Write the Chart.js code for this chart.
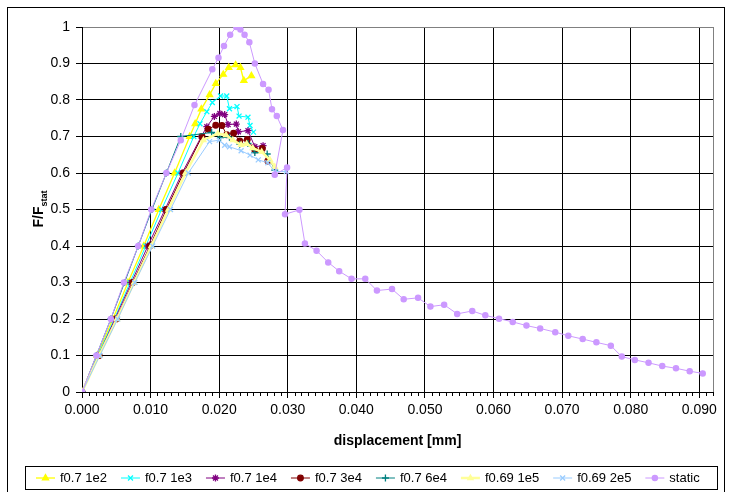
<!DOCTYPE html>
<html>
<head>
<meta charset="utf-8">
<script src="https://cdn.jsdelivr.net/npm/chart.js@4.4.0/dist/chart.umd.min.js"></script>
<style>
  html, body { margin: 0; padding: 0; background: #fff; }
</style>
</head>
<body>
<canvas id="myChart" width="731" height="492"></canvas>
<script>
// values (displacement in mm, F/Fstat)
const labels = ["f0.7 1e2", "f0.7 1e3", "f0.7 1e4", "f0.7 3e4", "f0.7 6e4", "f0.69 1e5", "f0.69 2e5", "static"];

const x1e2 = [0, 0.0022, 0.0045, 0.0067, 0.0090, 0.0112, 0.0135, 0.0157, 0.0165, 0.0174, 0.0186, 0.0195, 0.0206, 0.0214, 0.0224, 0.0231, 0.0236, 0.0247];
const y1e2 = [0, 0.1, 0.2, 0.3, 0.4, 0.5, 0.6, 0.7, 0.735, 0.775, 0.814, 0.845, 0.870, 0.889, 0.896, 0.889, 0.853, 0.866];

const x1e3 = [0, 0.0023, 0.0047, 0.0070, 0.0093, 0.0116, 0.0140, 0.0163, 0.0172, 0.0182, 0.0190, 0.0202, 0.0211, 0.0215, 0.0226, 0.0229, 0.0242, 0.0245, 0.0250];
const y1e3 = [0, 0.1, 0.2, 0.3, 0.4, 0.5, 0.6, 0.7, 0.735, 0.768, 0.793, 0.811, 0.811, 0.776, 0.782, 0.756, 0.753, 0.730, 0.712];

const x1e4 = [0, 0.0024, 0.0048, 0.0072, 0.0096, 0.0121, 0.0146, 0.0174, 0.0182, 0.0193, 0.0201, 0.0208, 0.0213, 0.0225, 0.0228, 0.0242, 0.0252, 0.0264];
const y1e4 = [0, 0.1, 0.2, 0.3, 0.4, 0.5, 0.6, 0.70, 0.727, 0.755, 0.763, 0.760, 0.733, 0.734, 0.713, 0.716, 0.672, 0.675];

const x3e4 = [0, 0.0025, 0.0050, 0.0074, 0.0099, 0.0123, 0.0148, 0.0175, 0.0184, 0.0195, 0.0204, 0.0211, 0.0221, 0.0230, 0.0241, 0.0252, 0.0263, 0.0271];
const y3e4 = [0, 0.1, 0.2, 0.3, 0.4, 0.5, 0.6, 0.70, 0.72, 0.731, 0.730, 0.705, 0.709, 0.688, 0.692, 0.663, 0.667, 0.633];

const x6e4 = [0, 0.0021, 0.0042, 0.0062, 0.0082, 0.0102, 0.0123, 0.0144, 0.0189, 0.0202, 0.0215, 0.0230, 0.0242, 0.0252, 0.0270, 0.0281];
const y6e4 = [0, 0.1, 0.2, 0.3, 0.4, 0.5, 0.6, 0.70, 0.711, 0.697, 0.698, 0.679, 0.681, 0.656, 0.652, 0.608];

const x1e5 = [0, 0.0025, 0.0051, 0.0076, 0.0101, 0.0126, 0.0151, 0.0177, 0.0198, 0.0210, 0.0220, 0.0232, 0.0240, 0.0249, 0.0262, 0.0274, 0.0281];
const y1e5 = [0, 0.1, 0.2, 0.3, 0.4, 0.5, 0.6, 0.69, 0.708, 0.704, 0.690, 0.677, 0.680, 0.668, 0.658, 0.636, 0.617];

const x2e5 = [0, 0.0026, 0.0052, 0.0077, 0.0103, 0.0129, 0.0155, 0.0186, 0.0200, 0.0208, 0.0215, 0.0232, 0.0245, 0.0257, 0.0271, 0.0281, 0.0298];
const y2e5 = [0, 0.1, 0.2, 0.3, 0.4, 0.5, 0.6, 0.686, 0.690, 0.676, 0.672, 0.661, 0.649, 0.636, 0.628, 0.604, 0.604];

const xStatic = [0, 0.0021, 0.0042, 0.0061, 0.0082, 0.0101, 0.0123, 0.0144, 0.0164, 0.0190, 0.0199, 0.0207, 0.0216, 0.0225, 0.0231, 0.0237, 0.0244, 0.0252, 0.0264, 0.0272, 0.0277, 0.0284, 0.0293, 0.0281, 0.0299, 0.0296, 0.0317, 0.0325, 0.0342, 0.0359, 0.0375, 0.0393, 0.0413, 0.0430, 0.0452, 0.0469, 0.0490, 0.0508, 0.0528, 0.0547, 0.0569, 0.0588, 0.0608, 0.0628, 0.0648, 0.0668, 0.0690, 0.0709, 0.0730, 0.0750, 0.0771, 0.0787, 0.0806, 0.0826, 0.0846, 0.0866, 0.0886, 0.0905];
const yStatic = [0, 0.1, 0.2, 0.3, 0.4, 0.5, 0.6, 0.69, 0.786, 0.884, 0.916, 0.948, 0.979, 1.0, 0.993, 0.979, 0.958, 0.90, 0.844, 0.828, 0.775, 0.756, 0.718, 0.595, 0.615, 0.487, 0.499, 0.407, 0.387, 0.355, 0.331, 0.310, 0.310, 0.278, 0.282, 0.254, 0.258, 0.234, 0.239, 0.214, 0.222, 0.210, 0.201, 0.192, 0.182, 0.174, 0.164, 0.154, 0.145, 0.136, 0.127, 0.097, 0.088, 0.080, 0.071, 0.065, 0.057, 0.051];

const xTickValues = [0, 0.01, 0.02, 0.03, 0.04, 0.05, 0.06, 0.07, 0.08, 0.09];

function pts(xs, ys) {
  return xs.map((x, i) => ({ x: x, y: ys[i] }));
}

function series(label, xs, ys, color, style, radius, lineW, order) {
  return {
    label: label,
    data: pts(xs, ys),
    showLine: true,
    borderColor: color,
    backgroundColor: color,
    borderWidth: lineW,
    pointStyle: style,
    pointRadius: radius,
    pointBorderWidth: 1.3,
    pointBorderColor: color,
    pointBackgroundColor: color,
    tension: 0,
    order: order
  };
}

const datasets = [
  series(labels[0], x1e2, y1e2, "#FFFF00", "triangle", 3.5, 1.3, 7),
  series(labels[1], x1e3, y1e3, "#00FFFF", "crossRot", 3.5, 1, 6),
  series(labels[2], x1e4, y1e4, "#800080", "star", 3.5, 1, 5),
  series(labels[3], x3e4, y3e4, "#800000", "circle", 2.8, 1, 4),
  series(labels[4], x6e4, y6e4, "#008080", "cross", 3.5, 1, 3),
  series(labels[5], x1e5, y1e5, "#FFFF99", "triangle", 3, 2.5, 2),
  series(labels[6], x2e5, y2e5, "#99CCFF", "crossRot", 3.5, 1, 1),
  series(labels[7], xStatic, yStatic, "#CC99FF", "circle", 2.6, 1, 0)
];

const FONT = "'Liberation Sans', Arial, sans-serif";

const extras = {
  id: "extras",
  afterDraw(chart) {
    const ctx = chart.ctx;
    const xs = chart.scales.x;
    const a = chart.chartArea;
    ctx.save();
    // minor ticks on x axis
    ctx.strokeStyle = "#000";
    ctx.lineWidth = 1;
    ctx.beginPath();
    for (let i = 1; i <= 92; i++) {
      if (i % 10 === 0) continue;
      const px = Math.round(xs.getPixelForValue(i / 1000)) + 0.5;
      ctx.moveTo(px, a.bottom);
      ctx.lineTo(px, a.bottom + 4);
    }
    ctx.stroke();
    // right edge of plot
    ctx.strokeStyle = "#808080";
    ctx.beginPath();
    ctx.moveTo(Math.round(a.right) + 0.5, a.top);
    ctx.lineTo(Math.round(a.right) + 0.5, a.bottom);
    ctx.stroke();

    // axis titles
    ctx.fillStyle = "#000";
    ctx.font = "bold 14px " + FONT;
    ctx.textAlign = "center";
    ctx.textBaseline = "middle";
    ctx.fillText("displacement [mm]", (a.left + a.right) / 2, 441);

    ctx.save();
    ctx.translate(38, 209);
    ctx.rotate(-Math.PI / 2);
    const main = "F/F";
    ctx.font = "bold 9px " + FONT;
    const subW = ctx.measureText("stat").width;
    ctx.font = "bold 14px " + FONT;
    const mainW = ctx.measureText(main).width;
    const start = -(mainW + subW) / 2;
    ctx.textAlign = "left";
    ctx.textBaseline = "alphabetic";
    ctx.fillText(main, start, 5);
    ctx.font = "bold 9px " + FONT;
    ctx.fillText("stat", start + mainW, 9);
    ctx.restore();

    // legend
    ctx.strokeStyle = "#000";
    ctx.lineWidth = 1;
    ctx.strokeRect(25.5, 466.5, 692, 23);
    ctx.font = "13px " + FONT;
    ctx.textAlign = "left";
    ctx.textBaseline = "middle";
    let lx = 36;
    const ly = 478;
    datasets.forEach((ds) => {
      ctx.strokeStyle = ds.borderColor;
      ctx.lineWidth = ds.borderWidth;
      ctx.beginPath();
      ctx.moveTo(lx, ly);
      ctx.lineTo(lx + 19, ly);
      ctx.stroke();
      ctx.fillStyle = ds.pointBackgroundColor;
      ctx.strokeStyle = ds.pointBorderColor;
      ctx.lineWidth = ds.pointBorderWidth;
      if (Chart.helpers && Chart.helpers.drawPoint) {
        Chart.helpers.drawPoint(ctx, { pointStyle: ds.pointStyle, radius: ds.pointRadius, borderWidth: ds.pointBorderWidth, rotation: 0 }, lx + 9.5, ly);
      }
      ctx.fillStyle = "#000";
      ctx.fillText(ds.label, lx + 24, ly + 0.5);
      lx += 24 + ctx.measureText(ds.label).width + 14;
    });

    // outer frame
    ctx.strokeStyle = "#000";
    ctx.lineWidth = 1;
    ctx.strokeRect(7.5, 7.5, 717, 500);
    ctx.restore();
  }
};

const config = {
  type: "scatter",
  data: { datasets },
  options: {
    responsive: false,
    animation: false,
    layout: { padding: { left: 0, right: 18, top: 27, bottom: 0 } },
    plugins: { legend: { display: false }, tooltip: { enabled: false } },
    scales: {
      x: {
        type: "linear",
        min: 0,
        max: 0.092,
        afterBuildTicks(scale) {
          scale.ticks = xTickValues.map((v) => ({ value: v }));
        },
        afterFit(scale) { scale.height = 100; },
        grid: { color: "#000", lineWidth: 1, tickLength: 6, tickColor: "#000" },
        border: { color: "#000", width: 1 },
        ticks: {
          autoSkip: false,
          maxRotation: 0,
          padding: 4,
          color: "#000",
          font: { family: FONT, size: 14 },
          callback: (v) => Number(v).toFixed(3)
        }
      },
      y: {
        min: 0,
        max: 1,
        afterFit(scale) { scale.width = 82; },
        grid: {
          color: (c) => (c.tick && c.tick.value === 1 ? "#808080" : "#000"),
          lineWidth: 1,
          tickLength: 6,
          tickColor: "#000"
        },
        border: { color: "#000", width: 1 },
        ticks: {
          stepSize: 0.1,
          padding: 6,
          color: "#000",
          font: { family: FONT, size: 14 },
          callback: (v) => String(Math.round(v * 10) / 10)
        }
      }
    }
  },
  plugins: [extras]
};

const myChart = document.getElementById("myChart");
myChart.style.backgroundColor = "white";
new Chart(myChart, config);
</script>
</body>
</html>
